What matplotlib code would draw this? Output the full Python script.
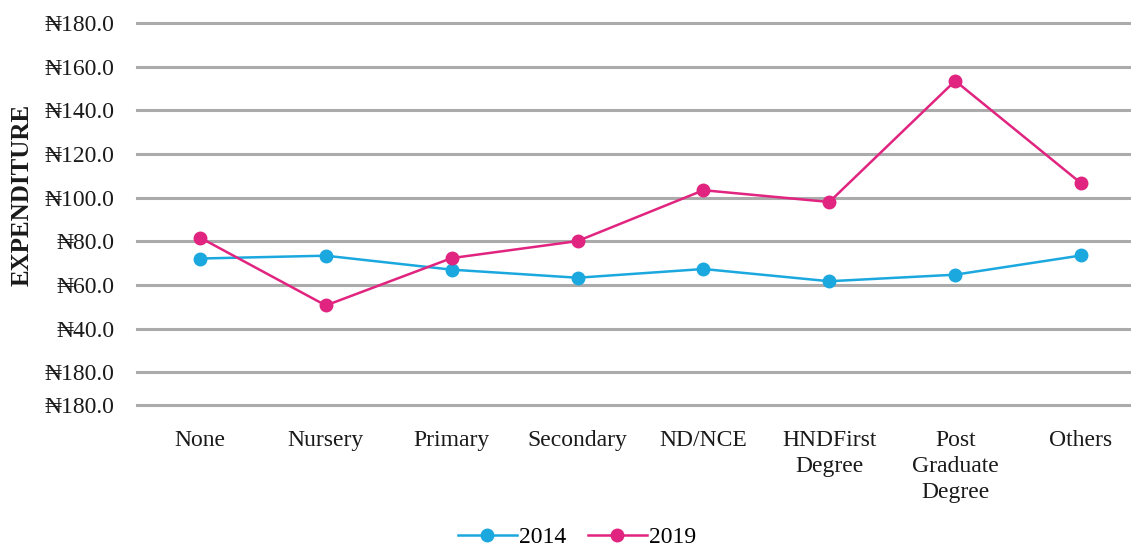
import matplotlib.pyplot as plt

# Data
levels = ["None", "Nursery", "Primary", "Secondary", "ND/NCE",
          "HNDFirst\nDegree", "Post\nGraduate\nDegree", "Others"]

exp_2014 = [72.1, 73.4, 67.0, 63.3, 67.3, 61.7, 64.7, 73.5]
exp_2019 = [81.7, 50.6, 72.3, 80.1, 103.4, 98.0, 153.5, 106.6]

y_ticks = [5, 20, 40, 60, 80, 100, 120, 140, 160, 180]
y_labels = ["₦180.0", "₦180.0", "₦40.0", "₦60.0", "₦80.0", "₦100.0",
            "₦120.0", "₦140.0", "₦160.0", "₦180.0"]

serif = ["Liberation Serif", "DejaVu Serif"]
plt.rcParams["font.family"] = serif

fig = plt.figure(figsize=(11.31, 5.48), dpi=100)
ax = fig.add_axes([137 / 1131, 1 - 405 / 548, (1144 - 137) / 1131, (405 - 23) / 548])

x = range(len(levels))
ax.plot(x, exp_2014, "-o", color="#1ba8df", linewidth=1.8, markersize=9, label="2014", zorder=3)
ax.plot(x, exp_2019, "-o", color="#e0247f", linewidth=1.8, markersize=9, label="2019", zorder=3)

ax.set_xlim(-0.5, 7.5)
ax.set_ylim(5, 180)
ax.set_yticks(y_ticks)
ax.set_yticklabels(y_labels)
ax.set_xticks(list(x))
ax.set_xticklabels(levels, va="top", linespacing=1.3)
ax.tick_params(axis="both", length=0, labelsize=17, colors="#1a1a1a")
ax.tick_params(axis="y", pad=16)
ax.tick_params(axis="x", pad=18)

ax.grid(axis="y", color="#ababab", linewidth=2.2)
ax.set_axisbelow(True)
for g in ax.get_ygridlines():
    g.set_clip_on(False)
for s in ax.spines.values():
    s.set_visible(False)

fig.text(22 / 1131, 1 - 195 / 548, "EXPENDITURE", rotation=90, ha="center", va="center",
         fontsize=18, fontweight="bold", color="#1a1a1a")

fig.legend(loc="center", bbox_to_anchor=(577 / 1131, 1 - 537 / 548), ncol=2, frameon=False,
           fontsize=17, handlelength=2.5, columnspacing=0.9, handletextpad=0.1)

fig.savefig("out.png", dpi=100, facecolor="white")
